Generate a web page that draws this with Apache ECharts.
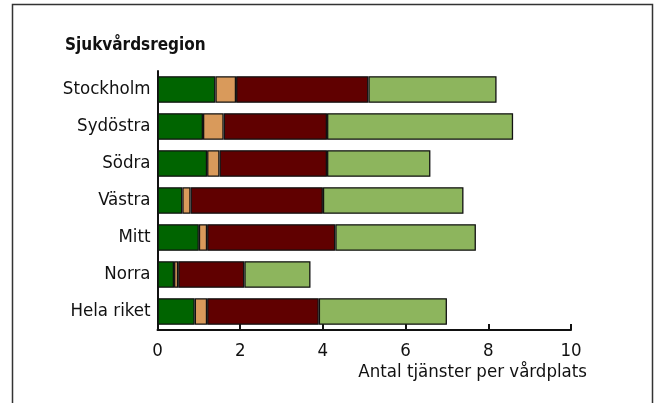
<!DOCTYPE html>
<html lang="sv">
<head>
<meta charset="utf-8">
<title>Sjukvårdsregion</title>
<script src="https://cdn.jsdelivr.net/npm/echarts@6/dist/echarts.min.js"></script>
<style>
  html, body { margin: 0; padding: 0; background: #fff; }
  #main { width: 659px; height: 403px; }
</style>
</head>
<body>
<div id="main"></div>
<script>
// kategorier, uppifrån och ned
var regioner = ['Stockholm', 'Sydöstra', 'Södra', 'Västra', 'Mitt', 'Norra', 'Hela riket'];

// segment per region
var seg1 = [1.4, 1.1, 1.2, 0.6, 1.0, 0.4, 0.9];
var seg2 = [0.5, 0.5, 0.3, 0.2, 0.2, 0.1, 0.3];
var seg3 = [3.2, 2.5, 2.6, 3.2, 3.1, 1.6, 2.7];
var seg4 = [3.1, 4.5, 2.5, 3.4, 3.4, 1.6, 3.1];

var xTicks = [0, 2, 4, 6, 8, 10];

var font = '"Liberation Sans Narrow", "DejaVu Sans Condensed", sans-serif';
var farger = ['#006400', '#d99a5b', '#600000', '#8db55d'];

var myChart = echarts.init(document.getElementById('main'));

function serie(data, i) {
    return {
        type: 'bar',
        stack: 'total',
        data: data,
        barCategoryGap: '28%',
        itemStyle: { color: farger[i], borderColor: '#111', borderWidth: 1.3 },
        emphasis: { disabled: true }
    };
}

var option = {
    animation: false,
    textStyle: { fontFamily: font },
    title: {
        text: 'Sjukvårdsregion',
        left: 65,
        top: 37,
        padding: 0,
        textStyle: { fontFamily: font, fontWeight: 'bold', fontSize: 17, color: '#111' }
    },
    grid: { left: 157.5, right: 88, top: 71, bottom: 73 },
    xAxis: {
        type: 'value',
        min: 0,
        max: 10,
        interval: 2,
        name: 'Antal tjänster per vårdplats',
        nameLocation: 'end',
        nameGap: 16,
        nameTextStyle: {
            fontFamily: font, fontSize: 18.5, color: '#111',
            align: 'right', verticalAlign: 'top',
            padding: [33, 0, 0, 0]
        },
        axisLine: { show: true, lineStyle: { color: '#111', width: 2 } },
        axisTick: { show: true, inside: true, length: 6, lineStyle: { color: '#111', width: 2 } },
        axisLabel: {
            fontFamily: font, fontSize: 18.5, color: '#111', margin: 12,
            formatter: function (v) { return xTicks.indexOf(v) >= 0 ? String(v) : ''; }
        },
        splitLine: { show: false }
    },
    yAxis: {
        type: 'category',
        data: regioner,
        inverse: true,
        axisLine: { show: true, lineStyle: { color: '#111', width: 2 } },
        axisTick: { show: false },
        axisLabel: { fontFamily: font, fontSize: 18.5, color: '#111', margin: 7 }
    },
    series: [serie(seg1, 0), serie(seg2, 1), serie(seg3, 2), serie(seg4, 3)],
    graphic: [{
        type: 'rect',
        shape: { x: 12.5, y: 4.5, width: 640, height: 420 },
        style: { fill: null, stroke: '#333', lineWidth: 1.5 },
        silent: true
    }]
};

myChart.setOption(option);
</script>
</body>
</html>
